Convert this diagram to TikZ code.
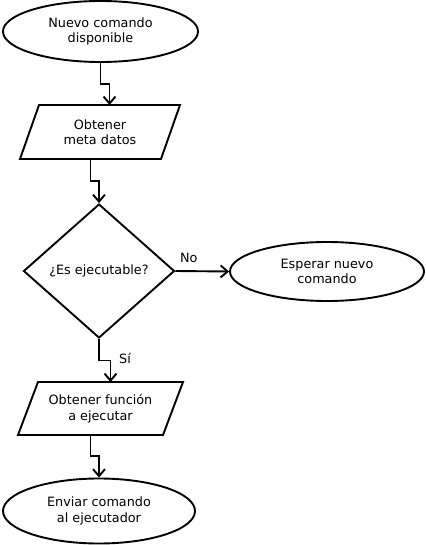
\documentclass[tikz,border=0pt]{standalone}
\usepackage{fontspec}
\setmainfont{DejaVu Sans}
\usetikzlibrary{shapes.geometric,arrows.meta,calc}
\begin{document}
\begin{tikzpicture}[x=1pt,y=-1pt,
  every node/.style={font=\fontsize{12.8}{15.5}\selectfont, align=center, inner sep=0pt},
  shapeline/.style={draw=black, line width=1.9pt, line join=miter},
  term/.style={shapeline, ellipse},
  decision/.style={shapeline, diamond},
  conn/.style={draw=black, line width=1.9pt, -{Straight Barb[length=7pt,width=12pt,line width=1.9pt]}}
]
\useasboundingbox (0,0) rectangle (425,545);

% start ellipse
\node[term, minimum width=195pt, minimum height=61pt] (e1) at (100.5,31.5) {Nuevo comando\\disponible};

% parallelogram 1
\coordinate (p1tl) at (39,105);
\coordinate (p1tr) at (180,105);
\coordinate (p1br) at (161,159);
\coordinate (p1bl) at (20,159);
\draw[shapeline] (p1tl) -- (p1tr) -- (p1br) -- (p1bl) -- cycle;
\node (p1) at (100,132) {Obtener\\meta datos};
\coordinate (p1n) at ($(p1tl)!0.5!(p1tr)$);
\coordinate (p1s) at ($(p1bl)!0.5!(p1br)$);

% decision
\node[decision, minimum width=151pt, minimum height=134pt] (d) at (99,271) {¿Es ejecutable?};

% wait ellipse
\node[term, minimum width=194pt, minimum height=59pt] (e2) at (327,271.5) {Esperar nuevo\\comando};

% parallelogram 2
\coordinate (p2tl) at (38,382);
\coordinate (p2tr) at (183,382);
\coordinate (p2br) at (163,435);
\coordinate (p2bl) at (18,435);
\draw[shapeline] (p2tl) -- (p2tr) -- (p2br) -- (p2bl) -- cycle;
\node (p2) at (100.5,408.5) {Obtener función\\a ejecutar};
\coordinate (p2n) at ($(p2tl)!0.5!(p2tr)$);
\coordinate (p2s) at ($(p2bl)!0.5!(p2br)$);

% end ellipse
\node[term, minimum width=192pt, minimum height=65pt] (e3) at (99,511) {Enviar comando\\al ejecutador};

% connectors
\draw[conn] (e1.south) |- ($(e1.south)!0.5!(p1n)$) -| (p1n);
\draw[conn] (p1s) |- ($(p1s)!0.5!(d.north)$) -| (d.north);
\draw[conn] (d.east) -- (e2.west) node[pos=0.25, above=7pt] (no) {No};
\draw[conn] (d.south) |- ($(d.south)!0.5!(p2n)$) -| (p2n);
\node (si) at (125,358) {Sí};
\draw[conn] (p2s) |- ($(p2s)!0.5!(e3.north)$) -| (e3.north);
\end{tikzpicture}
\end{document}
